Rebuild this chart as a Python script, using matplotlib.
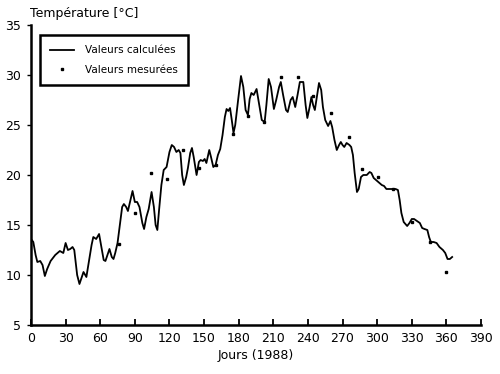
import matplotlib
matplotlib.use("Agg")
import matplotlib.pyplot as plt

# Calculated temperature curve (day, °C)
calc_days = [0, 2, 4, 5.5, 8, 10, 12, 14, 17, 21, 25, 28, 30, 32, 34, 36, 37.5, 40, 42, 44,
             45.5, 48, 50, 52.5, 54, 56.5, 59, 61, 63, 64.5, 66.5, 68, 70, 71.5, 73, 75, 77, 79,
             80.5, 82.5, 84, 86, 88, 90, 92, 94, 96.5, 98, 100, 102, 104.5, 106.5, 108, 109.5,
             111, 113, 115, 117.5, 120, 122, 124, 126, 128, 129.5, 131, 132.5, 134.5, 136, 138,
             139.5, 141, 143.5, 145.5, 147, 149, 150.5, 152, 154.5, 156, 158, 160, 162, 164, 166,
             168, 169.5, 171, 172.5, 174, 175.5, 177, 179.5, 182, 184, 186, 188, 189.5, 191, 193,
             195.5, 197.5, 200, 202.5, 204, 206, 208, 210.5, 212.5, 215, 216.5, 218.5, 221, 222.5,
             225, 226.8, 229, 231, 233, 236, 238, 239.5, 241.5, 243, 244.5, 246, 248, 249.6, 251.5,
             253, 255, 257.5, 259.5, 261, 263, 265, 267, 268.5, 270, 271.5, 273.5, 276, 277.5, 279,
             280.5, 282.5, 284, 286, 288, 291, 293.5, 295, 297, 299, 301, 304, 306, 308, 312, 316,
             318, 319.5, 321, 323, 326, 328, 330, 332, 334.5, 337, 339, 341, 343.5, 345, 346.5,
             349, 351.5, 354, 357, 359, 361, 363, 365]
calc_temp = [13.6, 13.3, 12.0, 11.3, 11.4, 11.0, 9.9, 10.6, 11.4, 12.0, 12.4, 12.2, 13.2, 12.5,
             12.6, 12.8, 12.5, 10.0, 9.1, 9.8, 10.3, 9.8, 11.2, 13.0, 13.8, 13.6, 14.1, 12.8, 11.5,
             11.4, 12.1, 12.6, 11.8, 11.6, 12.2, 13.2, 15.0, 16.8, 17.1, 16.8, 16.4, 17.4, 18.4,
             17.3, 17.3, 16.8, 15.2, 14.6, 15.8, 16.6, 18.3, 16.8, 15.0, 14.5, 16.5, 19.0, 20.5,
             20.8, 22.3, 23.0, 22.8, 22.3, 22.5, 22.2, 20.0, 19.0, 19.8, 20.7, 22.2, 22.7, 21.8,
             20.0, 21.3, 21.5, 21.4, 21.6, 21.2, 22.5, 21.8, 20.8, 21.0, 22.0, 22.6, 24.0, 25.8,
             26.6, 26.4, 26.7, 25.5, 24.2, 25.0, 27.5, 29.9, 28.8, 26.5, 26.0, 27.6, 28.2, 28.0,
             28.6, 27.2, 25.5, 25.3, 27.0, 29.6, 28.8, 26.6, 27.5, 28.8, 29.3, 28.0, 26.5, 26.3,
             27.5, 27.8, 26.8, 28.0, 29.3, 29.3, 27.0, 25.7, 26.8, 27.8, 27.0, 26.5, 28.0, 29.2,
             28.5, 26.8, 25.5, 24.9, 25.4, 24.8, 23.5, 22.5, 23.0, 23.3, 23.0, 22.8, 23.2, 23.0,
             22.8, 22.0, 20.2, 18.3, 18.6, 19.8, 20.0, 20.0, 20.3, 20.2, 19.7, 19.5, 19.3, 19.0,
             18.9, 18.6, 18.6, 18.6, 18.5, 17.5, 16.2, 15.3, 14.9, 15.2, 15.6, 15.6, 15.4, 15.2,
             14.7, 14.6, 14.5, 13.8, 13.3, 13.3, 13.2, 12.8, 12.5, 12.2, 11.6, 11.6, 11.8]

# Measured values
meas_days = [76, 90, 104, 118, 132, 146, 160, 175, 188, 202, 217, 231, 244, 260, 276, 287,
             301, 314, 330, 346, 360]
meas_temp = [13.1, 16.2, 20.2, 19.6, 22.5, 20.7, 21.0, 24.1, 25.9, 25.3, 29.8, 29.8, 27.9,
             26.2, 23.8, 20.6, 19.8, 18.6, 15.3, 13.3, 10.3]

x_ticks = list(range(0, 391, 30))
y_ticks = [5, 10, 15, 20, 25, 30, 35]

fig = plt.figure(figsize=(5.0, 3.74), dpi=100)
ax = fig.add_axes([31/500, 1-325/374, 450/500, 300/374])

ax.plot(calc_days, calc_temp, color="black", lw=1.3, label="Valeurs calculées")
ax.plot(meas_days, meas_temp, ls="none", marker="s", ms=1.7, color="black",
        label="Valeurs mesurées")

ax.set_xlim(0, 390)
ax.set_ylim(5, 35)
ax.set_xticks(x_ticks)
ax.set_yticks(y_ticks)
for s in ["top", "right"]:
    ax.spines[s].set_visible(False)
for s in ["left", "bottom"]:
    ax.spines[s].set_linewidth(1.8)
ax.tick_params(axis="x", direction="in", length=4, width=1.3, labelsize=9, pad=5)
ax.tick_params(axis="y", direction="out", length=3, width=1.0, labelsize=9, pad=4)

ax.set_xlabel("Jours (1988)", fontsize=9, labelpad=3)
fig.text(30/500, 1-13/374, "Température [°C]", fontsize=9, ha="left", va="center")

leg = ax.legend(loc="upper left", bbox_to_anchor=(40/500, 1-35/374),
                bbox_transform=fig.transFigure, borderaxespad=0, fancybox=False,
                edgecolor="black", fontsize=7.5, handlelength=2.3, handletextpad=1.0,
                borderpad=1.0, labelspacing=0.9, markerscale=1.0)
leg.get_frame().set_linewidth(1.8)
leg.get_frame().set_alpha(1)

fig.savefig("out.png", dpi=100)
